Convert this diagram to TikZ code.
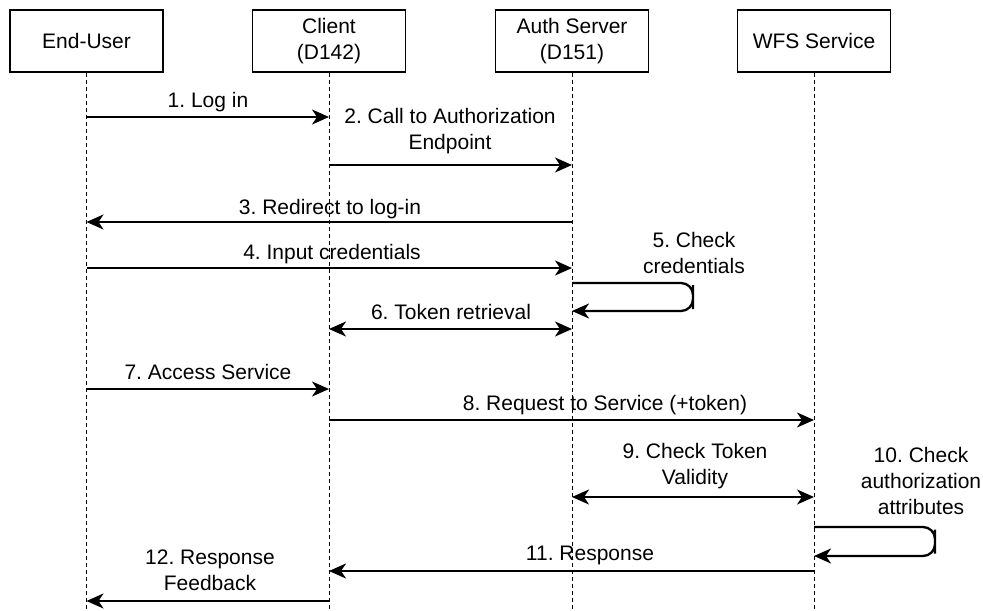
\documentclass[tikz,border=0pt]{standalone}
\usepackage{fontspec}
\setmainfont{Liberation Sans}
\frenchspacing
\usetikzlibrary{positioning,arrows.meta,calc}
\tikzset{
  actor/.style={rectangle,draw=black,line width=0.75pt,fill=white,
    align=center,inner sep=0pt,minimum width=76.5pt,minimum height=31pt},
  life/.style={draw=black,line width=0.5pt,dash pattern=on 2pt off 1.5pt},
  tip/.tip={Stealth[length=8.5pt,width=7.5pt,inset=2.5pt]},
  msg/.style={-tip,line width=1.15pt,draw=black},
  bimsg/.style={tip-tip,line width=1.15pt,draw=black},
  lbl/.style={align=center,inner sep=0pt,anchor=base},
  mlbl/.style={align=center,inner sep=0pt},
}

\begin{document}
\begin{tikzpicture}[x=0.5pt,y=-0.5pt,font=\fontsize{10.5}{13}\selectfont]
  \useasboundingbox (0,0) rectangle (983,610);
  % participants
  \node[actor] (eu) at (86.5,41) {End-User};
  \node[actor] (cl) at (329,41) {Client\\(D142)};
  \node[actor] (as) at (572,41) {Auth Server\\(D151)};
  \node[actor] (wf) at (814,41) {WFS Service};
  \foreach \p in {eu,cl,as,wf} \draw[life] (\p.south) -- (\p |- 0,610);
  % messages
  \draw[msg] (eu |- 0,117) -- (cl |- 0,117);
  \node[lbl] (l1) at (208,107.5) {1. Log in};
  \draw[msg] (cl |- 0,165) -- (as |- 0,165);
  \node[mlbl] (l2) at (450,131) {2. Call to Authorization\\Endpoint};
  \draw[msg] (as |- 0,222) -- (eu |- 0,222);
  \node[lbl] (l3) at (330,214.5) {3. Redirect to log-in};
  \draw[msg] (eu |- 0,268) -- (as |- 0,268);
  \node[lbl] (l4) at (332,259.5) {4. Input credentials};
  \coordinate (k5) at (693,297);
  \draw[msg,rounded corners=6pt] (as |- 0,283) -| (k5) |- (as |- 0,311);
  \node[mlbl] (l5) at (694,252.5) {5. Check\\credentials};
  \draw[bimsg] (cl |- 0,329) -- (as |- 0,329);
  \node[lbl] (l6) at (451,319.5) {6. Token retrieval};
  \draw[msg] (eu |- 0,389) -- (cl |- 0,389);
  \node[lbl] (l7) at (208,379.5) {7. Access Service};
  \draw[msg] (cl |- 0,420) -- (wf |- 0,420);
  \node[lbl] (l8) at (605,410.5) {8. Request to Service (+token)};
  \draw[bimsg] (as |- 0,497) -- (wf |- 0,497);
  \node[mlbl] (l9) at (695,466) {9. Check Token\\Validity};
  \coordinate (k10) at (935,541.5);
  \draw[msg,rounded corners=6pt] (wf |- 0,527) -| (k10) |- (wf |- 0,556);
  \node[mlbl] (l10) at (921,481) {10. Check\\authorization\\attributes};
  \draw[msg] (wf |- 0,571) -- (cl |- 0,571);
  \node[lbl] (l11) at (590,560.5) {11. Response};
  \draw[msg] (cl |- 0,601) -- (eu |- 0,601);
  \node[mlbl] (l12) at (210,570) {12. Response\\Feedback};
\end{tikzpicture}
\end{document}
